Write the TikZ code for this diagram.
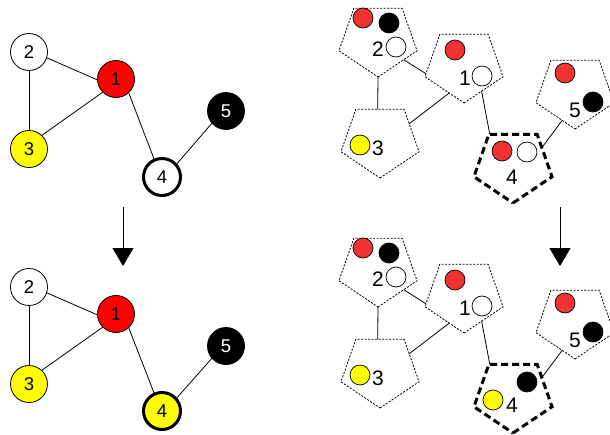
\documentclass[tikz,border=0pt]{standalone}
\usepackage{fontspec}
\setmainfont{Liberation Sans}
\usetikzlibrary{shapes.geometric,arrows.meta}
\definecolor{gred}{RGB}{255,0,0}
\definecolor{dred}{RGB}{240,50,50}
\definecolor{gyel}{RGB}{255,255,0}
\tikzset{
  gnode/.style={circle,draw,line width=0.8pt,minimum size=37pt,inner sep=0pt,outer sep=0pt,font=\fontsize{18.5}{20}\selectfont},
  thickb/.style={line width=3pt,minimum size=37pt},
  pent/.style={regular polygon,regular polygon sides=5,shape border rotate=180,draw,line width=0.8pt,dash pattern=on 2pt off 1.5pt,minimum size=76pt,inner sep=0pt,outer sep=0pt,xscale=1.08},
  pentthick/.style={line width=3pt,dash pattern=on 7pt off 4pt},
  dot/.style={circle,draw,line width=0.7pt,minimum size=20pt,inner sep=0pt},
  lab/.style={font=\fontsize{21}{22}\selectfont,inner sep=0pt},
  conn/.style={line width=0.8pt},
  darrow/.style={line width=0.8pt,-{Triangle[length=18pt,width=21pt]}}
}
\begin{document}
\begin{tikzpicture}[x=1pt,y=-1pt]
\useasboundingbox (0,0) rectangle (610,434);
% ---------- left top graph ----------
\node[gnode,fill=white] (a2) at (29,52) {2};
\node[gnode,fill=gred] (a1) at (116,79) {1};
\node[gnode,fill=gyel] (a3) at (29,149) {3};
\node[gnode,thickb,fill=white] (a4) at (162,177) {4};
\node[gnode,fill=black,text=white] (a5) at (226,111) {5};
\draw[conn] (a2.-18) -- (a1.183);
\draw[conn] (a2.-90) -- (a3.90);
\draw[conn] (a3.47) -- (a1.225);
\draw[conn] (a1.-47) -- (a4.114);
\draw[conn] (a4.41) -- (a5.221);
% ---------- left bottom graph ----------
\node[gnode,fill=white] (b2) at (29,287) {2};
\node[gnode,fill=gred] (b1) at (116,314) {1};
\node[gnode,fill=gyel] (b3) at (29,384) {3};
\node[gnode,thickb,fill=gyel] (b4) at (162,411) {4};
\node[gnode,fill=black,text=white] (b5) at (226,346) {5};
\draw[conn] (b2.-18) -- (b1.183);
\draw[conn] (b2.-90) -- (b3.90);
\draw[conn] (b3.47) -- (b1.225);
\draw[conn] (b1.-47) -- (b4.114);
\draw[conn] (b4.41) -- (b5.221);
% arrows
\coordinate (la0) at (123,207);
\coordinate (la1) at (123,266);
\draw[darrow] (la0) -- (la1);
\coordinate (ra0) at (560,207);
\coordinate (ra1) at (560,266);
\draw[darrow] (ra0) -- (ra1);
% ---------- right top ----------
\node[pent] (p2) at (378,39) {};
\node[pent] (p1) at (464,65) {};
\node[pent] (p3) at (380,140) {};
\node[pent,pentthick] (p4) at (513,165) {};
\node[pent] (p5) at (575,91) {};
\draw[conn] (p2.-41) -- (p1.194);
\draw[conn] (p2.-90) -- (p3.94);
\draw[conn] (p1.244) -- (p3.31);
\draw[conn] (p1.-58) -- (p4.125);
\draw[conn] (p4.33) -- (p5.-112);
\node[dot,fill=dred] (p2r) at (363,18) {};
\node[dot,fill=black] (p2k) at (389,23) {};
\node[dot,fill=white] (p2w) at (396,47) {};
\node[lab] (p2l) at (378,49) {2};
\node[dot,fill=dred] (p1r) at (455,50) {};
\node[dot,fill=white] (p1w) at (482,76) {};
\node[lab] (p1l) at (465,78) {1};
\node[dot,fill=gyel] (p3y) at (360,145) {};
\node[lab] (p3l) at (378,148) {3};
\node[dot,fill=dred] (p4r) at (502,151) {};
\node[dot,fill=white] (p4w) at (527,152) {};
\node[lab] (p4l) at (512,177) {4};
\node[dot,fill=dred] (p5r) at (565,73) {};
\node[dot,fill=black] (p5k) at (593,102) {};
\node[lab] (p5l) at (575,110) {5};
% ---------- right bottom ----------
\node[pent] (q2) at (378,269) {};
\node[pent] (q1) at (464,295) {};
\node[pent] (q3) at (380,370) {};
\node[pent,pentthick] (q4) at (513,395) {};
\node[pent] (q5) at (575,321) {};
\draw[conn] (q2.-41) -- (q1.194);
\draw[conn] (q2.-90) -- (q3.94);
\draw[conn] (q1.244) -- (q3.31);
\draw[conn] (q1.-58) -- (q4.125);
\draw[conn] (q4.33) -- (q5.-112);
\node[dot,fill=dred] (q2r) at (363,248) {};
\node[dot,fill=black] (q2k) at (389,253) {};
\node[dot,fill=white] (q2w) at (396,277) {};
\node[lab] (q2l) at (378,279) {2};
\node[dot,fill=dred] (q1r) at (455,280) {};
\node[dot,fill=white] (q1w) at (482,306) {};
\node[lab] (q1l) at (465,308) {1};
\node[dot,fill=gyel] (q3y) at (360,375) {};
\node[lab] (q3l) at (378,378) {3};
\node[dot,fill=black] (q4k) at (527,382) {};
\node[dot,fill=gyel] (q4y) at (493,400) {};
\node[lab] (q4l) at (512,405) {4};
\node[dot,fill=dred] (q5r) at (565,303) {};
\node[dot,fill=black] (q5k) at (593,332) {};
\node[lab] (q5l) at (575,340) {5};
\end{tikzpicture}
\end{document}
